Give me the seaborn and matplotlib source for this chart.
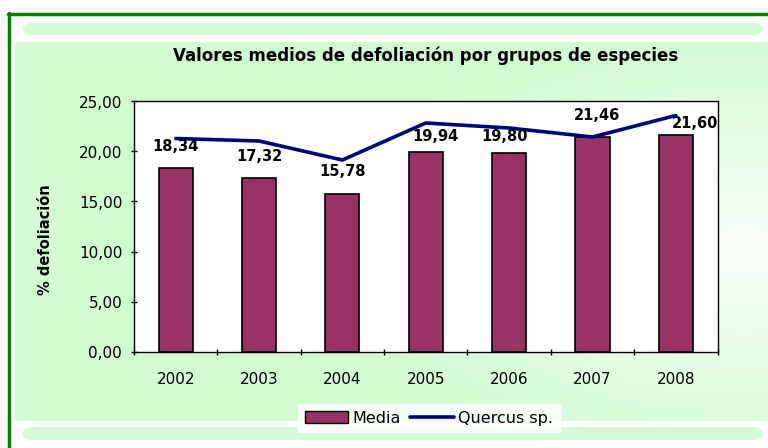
import numpy as np
import pandas as pd
import matplotlib
matplotlib.use("Agg")
import matplotlib.pyplot as plt
import seaborn as sns
from matplotlib.patches import FancyBboxPatch, Rectangle, Patch
from matplotlib.lines import Line2D

years = ["2002", "2003", "2004", "2005", "2006", "2007", "2008"]
media = [18.34, 17.32, 15.78, 19.94, 19.80, 21.46, 21.60]
quercus = [21.3, 21.05, 19.15, 22.85, 22.35, 21.45, 23.6]
media_labels = ["18,34", "17,32", "15,78", "19,94", "19,80", "21,46", "21,60"]
ytick_vals = [0, 5, 10, 15, 20, 25]
ytick_labels = ["0,00", "5,00", "10,00", "15,00", "20,00", "25,00"]

title = "Valores medios de defoliación por grupos de especies"
ylabel = "% defoliación"

sns.set_theme(style="white")
plt.rcParams['font.family'] = ['DejaVu Sans']
plt.rcParams['text.color'] = 'black'
plt.rcParams['axes.labelcolor'] = 'black'

W, H = 768, 448
fig = plt.figure(figsize=(W / 100, H / 100), dpi=100)
fig.patch.set_facecolor("white")

# background layer in pixel coordinates
bg = fig.add_axes([0, 0, 1, 1])
bg.set_xlim(0, W)
bg.set_ylim(H, 0)
bg.axis("off")

gx = np.linspace(0, 1, 200)
gy = np.linspace(0, 1, 120)
GX, GY = np.meshgrid(gx, gy)
d = np.sqrt(((GX - 0.97) / 0.55) ** 2 + ((GY - 0.55) / 0.6) ** 2)
t = np.clip(d, 0, 1)
c_edge = np.array([208, 252, 208]) / 255
c_mid = np.array([250, 255, 250]) / 255
img = c_mid[None, None, :] * (1 - t[..., None]) + c_edge[None, None, :] * t[..., None]
bg.imshow(img, extent=[15, W, 421, 42], aspect="auto", zorder=0, interpolation="bilinear")

bg.add_patch(FancyBboxPatch((22, 23), 742, 12, boxstyle="round,pad=0,rounding_size=10",
                            fc="#d4fcd4", ec="none", zorder=1))
bg.add_patch(FancyBboxPatch((22, 427), 742, 13, boxstyle="round,pad=0,rounding_size=10",
                            fc="#d4fcd4", ec="none", zorder=1))
bg.add_line(Line2D([8.5, 8.5], [13, H], color="#008000", lw=2.5, zorder=3))
bg.add_line(Line2D([8, W], [14, 14], color="#008000", lw=2.5, zorder=3))

ax = fig.add_axes([134 / W, 1 - 351.5 / H, (717.5 - 134) / W, (351.5 - 101.5) / H])
ax.set_facecolor("white")
df = pd.DataFrame({"year": years, "media": media, "quercus": quercus})

sns.barplot(data=df, x="year", y="media", color="#993366", saturation=1,
            width=0.41, edgecolor="black", linewidth=1.2, ax=ax)
sns.lineplot(x=np.arange(len(years)), y=df["quercus"], color="#000080",
             linewidth=2.6, ax=ax, legend=False)

# label placement (pixels): horizontal shift, gap above the bar top
label_dx = [0, 0, 0, 10, -5, 5, 19]
label_gap = [15, 15, 15, 9, 10, 15, 5]
for i, (v, lab) in enumerate(zip(media, media_labels)):
    ax.annotate(lab, (i, v), xytext=(label_dx[i] * 0.72, label_gap[i] * 0.72 - 0.5),
                textcoords="offset points", ha="center", va="bottom",
                fontsize=10.5, fontweight="bold", color="black")

ax.set_xlim(-0.5, len(years) - 0.5)
ax.set_ylim(0, 25)
ax.set_yticks(ytick_vals)
ax.set_yticklabels(ytick_labels, fontsize=11, color="black")
ax.set_xticks(np.arange(len(years)))
ax.set_xticklabels(years, fontsize=11, color="black")
ax.set_xticks(np.arange(-0.5, len(years)), minor=True)
ax.tick_params(axis="x", which="major", length=0, pad=15)
ax.tick_params(axis="x", which="minor", length=5, width=1, direction="inout", color="black", bottom=True)
ax.tick_params(axis="y", which="major", length=5, width=1, direction="inout", color="black", left=True, pad=6)
ax.set_xlabel("")
ax.set_ylabel(ylabel, fontsize=10.5, fontweight="bold", color="black")
ax.yaxis.set_label_coords((53 - 134) / 583.5, (351.5 - 240) / 250)
for s in ax.spines.values():
    s.set_visible(True)
    s.set_color("black")
    s.set_linewidth(1)

fig.text(426 / W, 1 - 56 / H, title, ha="center", va="center", fontsize=12,
         fontweight="bold", color="black")

h = [Patch(fc="#993366", ec="black", lw=1), Line2D([0], [0], color="#000080", lw=2.6)]
leg = fig.legend(h, ["Media", "Quercus sp."], loc="center", bbox_to_anchor=(429 / W, 1 - 418 / H),
                 ncol=2, frameon=True, fancybox=False, fontsize=11.5, handlelength=2.7,
                 handleheight=0.7, columnspacing=0.6, handletextpad=0.3, borderpad=0.4,
                 labelcolor="black")
leg.get_frame().set_facecolor("white")
leg.get_frame().set_edgecolor("white")

fig.savefig("out.png", dpi=100, facecolor="white")
